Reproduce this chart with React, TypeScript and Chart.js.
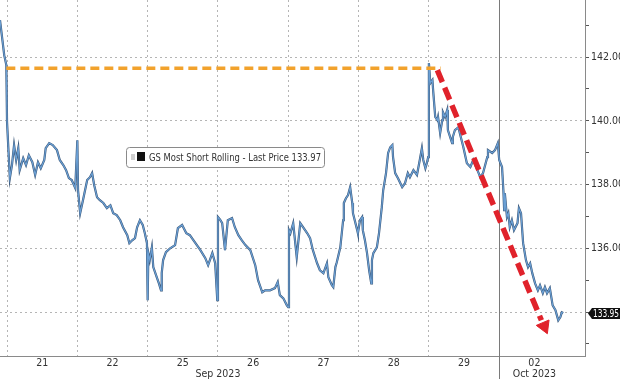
import React, { useEffect, useRef } from 'react';
import { Chart, registerables } from 'chart.js';

Chart.register(...registerables);

// ---- Data ----
const dayLabels = ['21', '22', '25', '26', '27', '28', '29', '02'];
const dayLabelPositions = [0.5, 1.5, 2.5, 3.5, 4.5, 5.5, 6.5, 7.5];
const dayBoundaries = [0, 1, 2, 3, 4, 5, 6, 7];
const monthLabels = ['Sep 2023', 'Oct 2023'];
const monthLabelPositions = [3.0, 7.5];
const monthSeparator = 7;
const yTickValues = [133, 134, 135, 136, 137, 138, 139, 140, 141, 142, 143];
const yLabelValues = [136, 138, 140, 142];
const yGridValues = [134, 136, 138, 140, 142];

const seriesX = [
  -0.10, -0.04, -0.01,
  0.00, 0.04, 0.07, 0.10, 0.13, 0.16, 0.18, 0.23, 0.27, 0.31, 0.36, 0.40, 0.44, 0.48, 0.53, 0.55, 0.60, 0.65, 0.71, 0.75, 0.80, 0.84, 0.88, 0.92, 0.97,
  1.00, 1.01, 1.04, 1.08, 1.14, 1.18, 1.21, 1.24, 1.28, 1.32, 1.37, 1.42, 1.47, 1.51, 1.56, 1.61, 1.65, 1.71, 1.74, 1.78, 1.82, 1.85, 1.89, 1.93, 1.96, 1.99,
  2.00, 2.01, 2.03, 2.06, 2.08, 2.13, 2.16, 2.19, 2.20, 2.22, 2.26, 2.32, 2.39, 2.43, 2.49, 2.55, 2.60, 2.67, 2.75, 2.82, 2.86, 2.92, 2.96, 2.99,
  3.00, 3.03, 3.06, 3.10, 3.14, 3.20, 3.24, 3.29, 3.34, 3.39, 3.46, 3.53, 3.57, 3.63, 3.67, 3.74, 3.81, 3.85, 3.88, 3.93, 3.98, 4.00,
  4.01, 4.03, 4.07, 4.12, 4.17, 4.21, 4.27, 4.31, 4.35, 4.41, 4.45, 4.50, 4.55, 4.57, 4.62, 4.64, 4.67, 4.69, 4.74, 4.78, 4.79, 4.82, 4.85, 4.88, 4.91, 4.92, 4.98,
  4.99, 5.02, 5.05, 5.06, 5.09, 5.12, 5.15, 5.18, 5.19, 5.21, 5.26, 5.29, 5.33, 5.35, 5.39, 5.42, 5.45, 5.48, 5.49, 5.52, 5.56, 5.62, 5.66, 5.70, 5.73, 5.78, 5.83, 5.87, 5.90, 5.92, 5.95, 5.97, 5.99,
  6.00, 6.02, 6.05, 6.06, 6.09, 6.12, 6.13, 6.16, 6.19, 6.20, 6.23, 6.26, 6.27, 6.33, 6.34, 6.37, 6.42, 6.44, 6.49, 6.54, 6.59, 6.63, 6.69, 6.73, 6.77, 6.83, 6.84, 6.90, 6.94, 6.98,
  7.00, 7.04, 7.06, 7.07, 7.08, 7.11, 7.13, 7.15, 7.18, 7.21, 7.26, 7.28, 7.31, 7.34, 7.38, 7.41, 7.44, 7.47, 7.51, 7.55, 7.58, 7.62, 7.65, 7.68, 7.72, 7.76, 7.80, 7.84, 7.87, 7.89, 7.91,
];

const seriesY = [
  143.16, 142.06, 141.75,
  139.96, 138.20, 138.61, 139.24, 138.77, 139.14, 138.45, 138.83, 138.61, 138.92, 138.70, 138.30, 138.70, 138.51, 138.77, 139.14, 139.30, 139.24, 139.08, 138.77, 138.61, 138.45, 138.20, 138.14, 137.89,
  139.39, 137.82, 137.10, 137.51, 138.14, 138.23, 138.36, 137.98, 137.60, 137.51, 137.42, 137.26, 137.35, 137.10, 137.04, 136.88, 136.66, 136.41, 136.16, 136.25, 136.32, 136.66, 136.88, 136.73, 136.47, 136.16,
  134.37, 135.85, 135.63, 136.03, 135.41, 135.09, 134.90, 134.68, 135.22, 135.63, 135.88, 136.00, 136.10, 136.63, 136.73, 136.47, 136.41, 136.19, 135.94, 135.69, 135.47, 135.85, 135.53, 134.37,
  136.98, 136.90, 136.79, 135.94, 136.88, 136.95, 136.66, 136.41, 136.25, 136.10, 135.94, 135.47, 135.00, 134.62, 134.68, 134.68, 134.75, 134.94, 134.53, 134.43, 134.21, 134.15,
  136.57, 136.47, 136.79, 135.72, 136.79, 136.66, 136.47, 136.32, 135.94, 135.53, 135.31, 135.22, 135.53, 135.09, 134.84, 134.78, 135.41, 135.56, 136.03, 136.88, 137.42, 137.57, 137.67, 137.92, 137.42, 137.10, 136.57,
  136.47, 136.88, 136.98, 136.57, 136.25, 135.85, 135.31, 134.90, 135.63, 135.85, 136.03, 136.47, 137.29, 137.82, 138.36, 138.99, 139.17, 139.24, 138.86, 138.36, 138.20, 137.92, 138.04, 138.36, 138.23, 138.45, 138.30, 138.77, 139.14, 138.77, 138.51, 138.67, 138.86,
  141.81, 141.18, 141.28, 140.96, 140.12, 140.02, 140.12, 139.61, 140.02, 140.27, 140.12, 140.34, 139.71, 139.30, 139.49, 139.71, 139.80, 139.61, 139.17, 138.67, 138.55, 138.77, 138.45, 138.23, 138.36, 138.86, 139.08, 138.99, 139.08, 139.30,
  138.77, 138.55, 137.79, 137.20, 137.73, 136.98, 137.10, 136.66, 136.88, 136.57, 136.79, 137.26, 137.10, 136.16, 135.63, 135.41, 135.53, 135.22, 134.90, 134.68, 134.84, 134.59, 134.78, 134.59, 134.75, 134.21, 134.06, 133.74, 133.84, 133.99, 133.97,
];

const resistanceLevel = 141.65;
const resistanceX = [-0.01, 6.17];
const trendX = [6.12, 7.60];
const trendY = [141.59, 133.74];
const arrowHeadX = [7.64];
const arrowHeadY = [133.55];
const legendText = 'GS Most Short Rolling - Last Price 133.97';
const lastPriceLabel = 133.95;

const xMin = -0.1;
const xMax = 8.22;
const yMin = 132.62;
const yMax = 143.79;

const FONT = "'Liberation Sans Narrow', 'DejaVu Sans Condensed', 'Liberation Sans', sans-serif";

const zeroPadding = (scale: any) => {
  scale.paddingTop = 0;
  scale.paddingBottom = 0;
  scale.paddingLeft = 0;
  scale.paddingRight = 0;
};

const extrasPlugin = {
  id: 'extras',
  beforeDatasetsDraw(chart: any) {
    const { ctx, scales } = chart;
    const x = Math.round(scales.x.getPixelForValue(monthSeparator)) + 0.5;
    ctx.save();
    ctx.strokeStyle = '#7a7a7a';
    ctx.lineWidth = 1;
    ctx.beginPath();
    ctx.moveTo(x, chart.chartArea.top);
    ctx.lineTo(x, chart.height);
    ctx.stroke();
    ctx.restore();
  },
  afterDraw(chart: any) {
    const { ctx, scales, chartArea } = chart;
    ctx.save();
    // legend box
    const bx = 126.5, by = 147.5, bw = 198, bh = 20;
    ctx.fillStyle = '#ffffff';
    ctx.strokeStyle = '#8a8a8a';
    ctx.lineWidth = 1;
    ctx.beginPath();
    (ctx as any).roundRect(bx, by, bw, bh, 3);
    ctx.fill();
    ctx.stroke();
    ctx.fillStyle = '#d0d0d0';
    ctx.fillRect(131, 154, 4, 6);
    ctx.fillStyle = '#111111';
    ctx.fillRect(137, 152, 8, 9);
    ctx.fillStyle = '#333333';
    ctx.font = `10.5px ${FONT}`;
    ctx.textBaseline = 'middle';
    ctx.textAlign = 'left';
    ctx.fillText(legendText, 149, by + bh / 2 + 0.5, 172);

    // last price label
    const py = scales.y.getPixelForValue(lastPriceLabel);
    const lx = chartArea.right + 3;
    const h = 11;
    ctx.fillStyle = '#111111';
    ctx.beginPath();
    ctx.moveTo(lx, py);
    ctx.lineTo(lx + 4, py - h / 2);
    ctx.lineTo(chart.width, py - h / 2);
    ctx.lineTo(chart.width, py + h / 2);
    ctx.lineTo(lx + 4, py + h / 2);
    ctx.closePath();
    ctx.fill();
    ctx.fillStyle = '#ffffff';
    ctx.font = `10px ${FONT}`;
    ctx.textAlign = 'left';
    ctx.fillText(lastPriceLabel.toFixed(2), lx + 5, py + 0.5, chart.width - lx - 6);
    ctx.restore();
  },
};

export default function App() {
  const ref = useRef<HTMLCanvasElement | null>(null);

  useEffect(() => {
    if (!ref.current) return;
    Chart.defaults.font.family = FONT;
    const mainData = seriesX.map((x, i) => ({ x, y: seriesY[i] }));
    const chart = new Chart(ref.current, {
      type: 'line',
      data: {
        datasets: [
          {
            data: [{ x: trendX[0], y: trendY[0] }, { x: trendX[1], y: trendY[1] }],
            borderColor: '#e0222b',
            borderWidth: 5.5,
            borderDash: [13, 6],
            pointRadius: 0,
            order: 0,
          },
          {
            data: arrowHeadX.map((x, i) => ({ x, y: arrowHeadY[i] })),
            showLine: false,
            pointStyle: 'triangle',
            pointRadius: 8,
            rotation: 157,
            backgroundColor: '#e0222b',
            borderColor: '#e0222b',
            borderWidth: 1,
            order: 0,
          },
          {
            data: resistanceX.map((x) => ({ x, y: resistanceLevel })),
            borderColor: '#f2a22c',
            borderWidth: 3.5,
            borderDash: [9, 5],
            pointRadius: 0,
            order: 1,
          },
          {
            data: mainData,
            borderColor: '#6a9fd4',
            borderWidth: 1.2,
            pointRadius: 0,
            tension: 0,
            order: 2,
          },
          {
            data: mainData,
            borderColor: '#3a5677',
            borderWidth: 2.2,
            pointRadius: 0,
            tension: 0,
            order: 3,
          },
        ],
      },
      options: {
        animation: false,
        responsive: false,
        maintainAspectRatio: false,
        layout: { padding: 0, autoPadding: false },
        plugins: { legend: { display: false }, tooltip: { enabled: false } },
        scales: {
          x: {
            type: 'linear',
            position: 'bottom',
            min: xMin,
            max: xMax,
            afterBuildTicks: (scale: any) => {
              const vals = [...dayBoundaries, ...dayLabelPositions].sort((a, b) => a - b);
              scale.ticks = vals.map((v) => ({ value: v }));
            },
            afterFit: (scale: any) => {
              scale.height = 13;
              zeroPadding(scale);
            },
            ticks: {
              autoSkip: false,
              maxRotation: 0,
              padding: 1,
              color: '#333',
              font: { size: 10.5, lineHeight: 1.1 },
              callback: (value: any) => {
                const i = dayLabelPositions.indexOf(Number(value));
                return i >= 0 ? dayLabels[i] : '';
              },
            },
            grid: {
              drawTicks: false,
              color: (ctx: any) =>
                ctx.tick && dayBoundaries.includes(ctx.tick.value) ? '#b5b5b5' : 'rgba(0,0,0,0)',
              lineWidth: 1,
            },
            border: { display: true, color: '#8a8a8a', width: 1, dash: [2, 3] },
          },
          x2: {
            type: 'linear',
            position: 'bottom',
            min: xMin,
            max: xMax,
            afterBuildTicks: (scale: any) => {
              scale.ticks = monthLabelPositions.map((v) => ({ value: v }));
            },
            afterFit: (scale: any) => {
              scale.height = 10;
              zeroPadding(scale);
            },
            ticks: {
              autoSkip: false,
              maxRotation: 0,
              padding: 0,
              color: '#333',
              font: { size: 10.5, lineHeight: 1 },
              callback: (_v: any, index: number) => monthLabels[index] ?? '',
            },
            grid: { display: false, drawTicks: false },
            border: { display: false },
          },
          y: {
            type: 'linear',
            position: 'right',
            min: yMin,
            max: yMax,
            afterBuildTicks: (scale: any) => {
              scale.ticks = yTickValues.map((v) => ({ value: v }));
            },
            afterFit: (scale: any) => {
              scale.width = 35;
              zeroPadding(scale);
            },
            ticks: {
              autoSkip: false,
              padding: 2,
              color: '#333',
              font: { size: 10.5 },
              callback: (value: any) => (yLabelValues.includes(Number(value)) ? Number(value).toFixed(2) : ''),
            },
            grid: {
              drawTicks: true,
              tickLength: 4,
              tickColor: '#555',
              color: (ctx: any) =>
                ctx.tick && yGridValues.includes(ctx.tick.value) ? '#b5b5b5' : 'rgba(0,0,0,0)',
              lineWidth: 1,
            },
            border: { display: true, color: '#8a8a8a', width: 1, dash: [2, 3] },
          },
        },
      } as any,
      plugins: [extrasPlugin],
    });
    return () => chart.destroy();
  }, []);

  return (
    <div style={{ position: 'fixed', left: 0, top: 0, width: 620, height: 379, background: '#fff' }}>
      <canvas ref={ref} width={620} height={379} style={{ display: 'block' }} />
    </div>
  );
}
